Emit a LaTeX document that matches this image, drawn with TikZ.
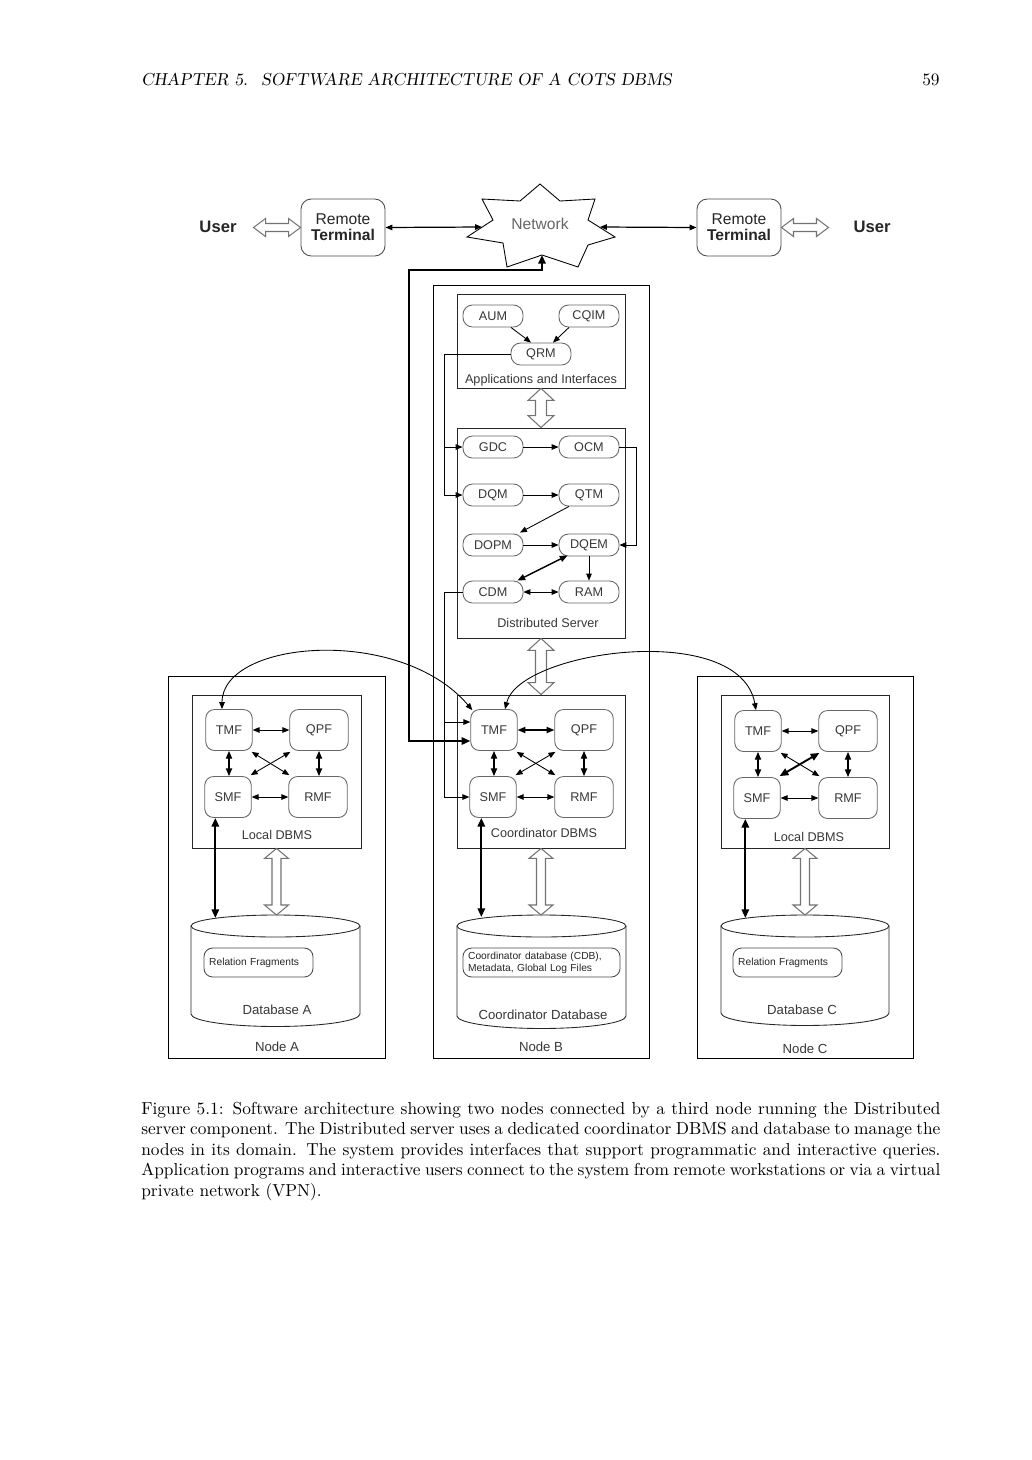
\documentclass[tikz,border=0pt]{standalone}
\usepackage{fontspec}
\newfontfamily\arial{Liberation Sans}
\usetikzlibrary{arrows.meta,calc}

% vertical hollow double arrow: #1 top point, #2 bottom point, #3 head half width, #4 shaft half width, #5 head length
\newcommand\vhollow[5]{%
  \draw[hollow] (#1) -- ($(#1)+(#3,#5)$) -- ($(#1)+(#4,#5)$) -- ($(#2)+(#4,-#5)$) -- ($(#2)+(#3,-#5)$) -- (#2)
    -- ($(#2)+(-#3,-#5)$) -- ($(#2)+(-#4,-#5)$) -- ($(#1)+(-#4,#5)$) -- ($(#1)+(-#3,#5)$) -- cycle;}
% horizontal hollow double arrow: #1 left point, #2 right point
\newcommand\hhollow[5]{%
  \draw[hollow] (#1) -- ($(#1)+(#5,-#3)$) -- ($(#1)+(#5,-#4)$) -- ($(#2)+(-#5,-#4)$) -- ($(#2)+(-#5,-#3)$) -- (#2)
    -- ($(#2)+(-#5,#3)$) -- ($(#2)+(-#5,#4)$) -- ($(#1)+(#5,#4)$) -- ($(#1)+(#5,#3)$) -- cycle;}
% framed area given by its corners
\newcommand\areabox[6]{%
  \node[#2, minimum width={(#5-#3)*0.5768pt}, minimum height={(#6-#4)*0.5768pt}] (#1) at ({(#3+#5)/2},{(#4+#6)/2}) {};}
% database cylinder: #1 name, #2 left, #3 right, #4 top ellipse centre, #5 bottom of sides, #6 top radius
\newcommand\dbcyl[6]{%
  \draw[dbline] ({(#2+#3)/2},#4) ellipse [x radius={(#3-#2)/2*0.5768pt}, y radius={#6*0.5768pt}];
  \draw[dbline] (#2,#4) -- (#2,#5) arc[start angle=180, end angle=360, x radius={(#3-#2)/2*0.5768pt}, y radius=7.2pt] -- (#3,#4);
  \coordinate (#1-top) at ({(#2+#3)/2},{#4-#6});}

\begin{document}
\begin{tikzpicture}[x=0.5768pt,y=-0.5768pt,
  every node/.style={inner sep=0pt},
  lbl/.style={font=\arial\fontsize{7.3}{8.5}\selectfont, text=black!78},
  small/.style={font=\arial\fontsize{5.9}{7}\selectfont, text=black!85},
  pill/.style={lbl, draw=black!60, line width=0.5pt, rounded corners=5.5pt, minimum width=34.6pt, minimum height=12.7pt},
  fn/.style={lbl, draw=black!60, line width=0.5pt, rounded corners=5pt, minimum height=23.6pt},
  fsm/.style={fn, minimum width=26.8pt},
  flg/.style={fn, minimum width=33.7pt},
  tagbox/.style={small, draw=black!70, line width=0.5pt, rounded corners=5pt, minimum height=16.7pt, align=left, inner xsep=3pt},
  term/.style={draw=black!70, line width=0.5pt, rounded corners=6pt, minimum width=48.5pt, minimum height=32.9pt,
    align=center, font=\arial\fontsize{9}{9.4}\selectfont, text=black!85},
  grp/.style={draw=black!85, line width=0.5pt},
  outerbox/.style={draw=black, line width=0.5pt},
  dbline/.style={draw=black!85, line width=0.5pt},
  hollow/.style={draw=black!55, fill=white, line width=0.6pt},
  con/.style={line width=0.5pt, -{Triangle[length=4pt,width=3.2pt]}},
  bcon/.style={line width=0.5pt, {Triangle[length=4pt,width=3.2pt]}-{Triangle[length=4pt,width=3.2pt]}},
  bmid/.style={line width=0.8pt, {Triangle[length=4.5pt,width=3.6pt]}-{Triangle[length=4.5pt,width=3.6pt]}},
  thk/.style={line width=1.2pt, {Triangle[length=5pt,width=4.2pt]}-{Triangle[length=5pt,width=4.2pt]}},
  captxt/.style={font=\fontsize{10}{12}\selectfont, anchor=base west}]

\fill[white] (0,0) rectangle (1032,1460);
\useasboundingbox (0,0) rectangle (1032,1460);

% running head
\node[anchor=base west, font=\slshape\fontsize{10}{12}\selectfont] (head) at (141,85) {CHAPTER 5. \ SOFTWARE ARCHITECTURE OF A COTS DBMS};
\node[anchor=base east, font=\fontsize{10}{12}\selectfont] (page) at (940,85) {59};

% ---------- users, terminals and network ----------
\node[font=\arial\bfseries\fontsize{9.6}{12}\selectfont, text=black!85] (userL) at (218,227) {User};
\node[font=\arial\bfseries\fontsize{9.6}{12}\selectfont, text=black!85] (userR) at (872,227) {User};
\node[term] (termL) at (343,227.5) {Remote\\\textbf{Terminal}};
\node[term] (termR) at (739,227.5) {Remote\\\textbf{Terminal}};

\draw[line width=0.5pt] (540,184) -- (560,201) -- (595,199) -- (588,220) -- (615,237) -- (588,245) -- (578,267)
  -- (542,255) -- (507,267) -- (503,243) -- (467,237) -- (493,220) -- (482,199) -- (520,201) -- cycle;
\node[font=\arial\fontsize{9}{10}\selectfont, text=black!60] (net) at (540,224) {Network};
\coordinate (netL) at (482,227);
\coordinate (netR) at (600,227);
\coordinate (netB) at (542,255);

\coordinate (hL) at ($(termL.west)+(-47,0)$);
\coordinate (hR) at ($(termR.east)+(47,0)$);
\hhollow{hL}{termL.west}{9}{4}{12}
\hhollow{termR.east}{hR}{9}{4}{12}
\draw[bcon, line width=0.7pt] (termL.east) -- (netL);
\draw[bcon, line width=0.7pt] (netR) -- (termR.west);

% ---------- node frames ----------
\areabox{outA}{outerbox}{168}{676}{385}{1058}
\areabox{outB}{outerbox}{433}{285}{649}{1058}
\areabox{outC}{outerbox}{697}{676}{913}{1058}

% ---------- applications and interfaces ----------
\areabox{app}{grp}{457}{294}{625}{388}
\node[pill] (AUM) at (493,316) {AUM};
\node[pill] (CQIM) at (589,316) {CQIM};
\node[pill] (QRM) at (541,354) {QRM};
\node[lbl] (appl) at (541,380) {Applications and Interfaces};
\draw[con] ($(AUM.south)+(18,0)$) -- ($(QRM.north)+(-10,0)$);
\draw[con] ($(CQIM.south)+(-20,0)$) -- ($(QRM.north)+(12,0)$);

% ---------- distributed server ----------
\areabox{ds}{grp}{457}{428}{625}{638}
\node[pill] (GDC) at (493,447) {GDC};
\node[pill] (OCM) at (589,447) {OCM};
\node[pill] (DQM) at (493,495) {DQM};
\node[pill] (QTM) at (589,495) {QTM};
\node[pill] (DOPM) at (493,545) {DOPM};
\node[pill] (DQEM) at (589,545) {DQEM};
\node[pill] (CDM) at (493,592) {CDM};
\node[pill] (RAM) at (589,592) {RAM};
\node[lbl] (dsl) at (548,623) {Distributed Server};

\draw[con] (GDC) -- (OCM);
\draw[con] (DQM) -- (QTM);
\draw[con] (DOPM) -- (DQEM);
\draw[con] ($(QTM.south)+(-20,0)$) -- ($(DOPM.north)+(27,-1)$);
\draw[con] (OCM.east) -- ++(17,0) |- (DQEM.east);
\draw[con] (DQEM.south) -- (RAM.north);
\draw[bmid] ($(DQEM.south west)+(9,-1)$) -- ($(CDM.north east)+(-6,0)$);
\draw[bcon] (CDM) -- (RAM);

\coordinate (cbus) at ($(CDM.west)+(-18,0)$);
\coordinate (qbus) at (cbus |- QRM.west);
\draw[line width=0.5pt] (QRM.west) -- (qbus);
\draw[con] (qbus) |- (GDC.west);
\draw[con] (qbus) |- (DQM.west);

\vhollow{app.south}{ds.north}{13}{5.5}{12}

% ---------- DBMS boxes ----------
\areabox{locA}{grp}{192}{695}{361}{848}
\areabox{coord}{grp}{457}{695}{625}{848}
\areabox{locC}{grp}{721}{695}{889}{848}
\vhollow{ds.south}{coord.north}{13}{5.5}{12}

\node[fsm] (TMFa) at (229,730) {TMF};
\node[flg] (QPFa) at (319,730) {QPF};
\node[fsm] (SMFa) at (228,797) {SMF};
\node[flg] (RMFa) at (318,797) {RMF};
\node[lbl] (locAl) at (277,835) {Local DBMS};

\node[fsm] (TMFb) at (494,730) {TMF};
\node[flg] (QPFb) at (584,730) {QPF};
\node[fsm] (SMFb) at (493,797) {SMF};
\node[flg] (RMFb) at (584,797) {RMF};
\node[lbl] (coordl) at (544,833) {Coordinator DBMS};

\node[fsm] (TMFc) at (758,731) {TMF};
\node[flg] (QPFc) at (848,731) {QPF};
\node[fsm] (SMFc) at (757,798) {SMF};
\node[flg] (RMFc) at (848,798) {RMF};
\node[lbl] (locCl) at (809,837) {Local DBMS};

% links inside each DBMS
\draw[bcon] (TMFa) -- (QPFa);
\draw[bcon] (SMFa) -- (RMFa);
\draw[bmid] (TMFa.south) -- (TMFa.south |- SMFa.north);
\draw[bmid] (QPFa.south) -- (QPFa.south |- RMFa.north);
\draw[bcon] ($(TMFa.south east)+(-1,1)$) -- ($(RMFa.north west)+(1,-1)$);
\draw[bcon] ($(QPFa.south west)+(1,1)$) -- ($(SMFa.north east)+(-1,-1)$);

\draw[bmid] (TMFb) -- (QPFb);
\draw[bcon] (SMFb) -- (RMFb);
\draw[bmid] (TMFb.south) -- (TMFb.south |- SMFb.north);
\draw[bmid] (QPFb.south) -- (QPFb.south |- RMFb.north);
\draw[bcon] ($(TMFb.south east)+(-1,1)$) -- ($(RMFb.north west)+(1,-1)$);
\draw[bcon] ($(QPFb.south west)+(1,1)$) -- ($(SMFb.north east)+(-1,-1)$);

\draw[bcon] (TMFc) -- (QPFc);
\draw[bcon] (SMFc) -- (RMFc);
\draw[bmid] (TMFc.south) -- (TMFc.south |- SMFc.north);
\draw[bmid] (QPFc.south) -- (QPFc.south |- RMFc.north);
\draw[bcon] ($(TMFc.south east)+(-1,1)$) -- ($(RMFc.north west)+(1,-1)$);
\draw[thk, line width=1.1pt] ($(QPFc.south west)+(1,1)$) -- ($(SMFc.north east)+(-1,-1)$);

% coordinator feeds from the distributed server
\draw[line width=0.5pt] (CDM.west) -- (cbus);
\draw[con] (cbus) |- ($(TMFb.west)+(0,-8)$);
\draw[con] (cbus) |- (SMFb.west);

% coordinator TMF to the network
\draw[thk] ($(TMFb.west)+(0,11)$) -| (409,270) -| (netB);

% transaction links between nodes
\draw[bcon] ($(TMFa.north)+(-7,0)$) .. controls (222,640) and (400,625) .. ($(TMFb.north west)+(2,1)$);
\draw[bcon] ($(TMFb.north)+(11,0)$) .. controls (520,650) and (740,620) .. ($(TMFc.north)+(-2,0)$);

% ---------- databases ----------
\dbcyl{dbA}{191}{360}{926}{1014}{11}
\dbcyl{dbB}{457}{626}{926}{1016}{11}
\dbcyl{dbC}{721}{889}{926}{1013}{11}

\vhollow{locA.south}{locA.south |- dbA-top}{12}{4.5}{10}
\vhollow{coord.south}{coord.south |- dbB-top}{12}{4.5}{10}
\vhollow{locC.south}{locC.south |- dbC-top}{12}{4.5}{10}

\draw[thk] ($(SMFa.south west)+(11,0)$) coordinate (sA) -- ($(sA |- dbA-top)+(0,3)$);
\draw[thk] ($(SMFb.south west)+(12,0)$) coordinate (sB) -- ($(sB |- dbB-top)+(0,2)$);
\draw[thk] ($(SMFc.south west)+(12,0)$) coordinate (sC) -- ($(sC |- dbC-top)+(0,3)$);

\node[tagbox, minimum width=62.9pt, text width=56.9pt] (rfA) at (258.5,962.5) {Relation Fragments};
\node[tagbox, minimum width=90.6pt, text width=84.6pt, font=\arial\fontsize{5.9}{6.9}\selectfont] (cdb) at (541.5,962.5)
  {Coordinator database (CDB),\\Metadata, Global Log Files};
\node[tagbox, minimum width=62.9pt, text width=56.9pt] (rfC) at (787.5,962.5) {Relation Fragments};

\node[lbl, font=\arial\fontsize{7.6}{9}\selectfont] (dbAl) at (277,1010) {Database A};
\node[lbl, font=\arial\fontsize{7.6}{9}\selectfont] (dbBl) at (543,1015) {Coordinator Database};
\node[lbl, font=\arial\fontsize{7.6}{9}\selectfont] (dbCl) at (802,1010) {Database C};

\node[lbl, font=\arial\fontsize{7.6}{9}\selectfont] (nA) at (277,1047) {Node A};
\node[lbl, font=\arial\fontsize{7.6}{9}\selectfont] (nB) at (541,1047) {Node B};
\node[lbl, font=\arial\fontsize{7.6}{9}\selectfont] (nC) at (805,1049) {Node C};

% ---------- caption ----------
\node[captxt] (cap1) at (141,1114) {\makebox[460.9pt][s]{Figure 5.1: Software architecture showing two nodes connected by a third node running the Distributed}};
\node[captxt] (cap2) at (141,1134.5) {\makebox[460.9pt][s]{server component. The Distributed server uses a dedicated coordinator DBMS and database to manage the}};
\node[captxt] (cap3) at (141,1155) {\makebox[460.9pt][s]{nodes in its domain. The system provides interfaces that support programmatic and interactive queries.}};
\node[captxt] (cap4) at (141,1175.5) {\makebox[460.9pt][s]{Application programs and interactive users connect to the system from remote workstations or via a virtual}};
\node[captxt] (cap5) at (141,1196) {private network (VPN).};
\end{tikzpicture}
\end{document}
